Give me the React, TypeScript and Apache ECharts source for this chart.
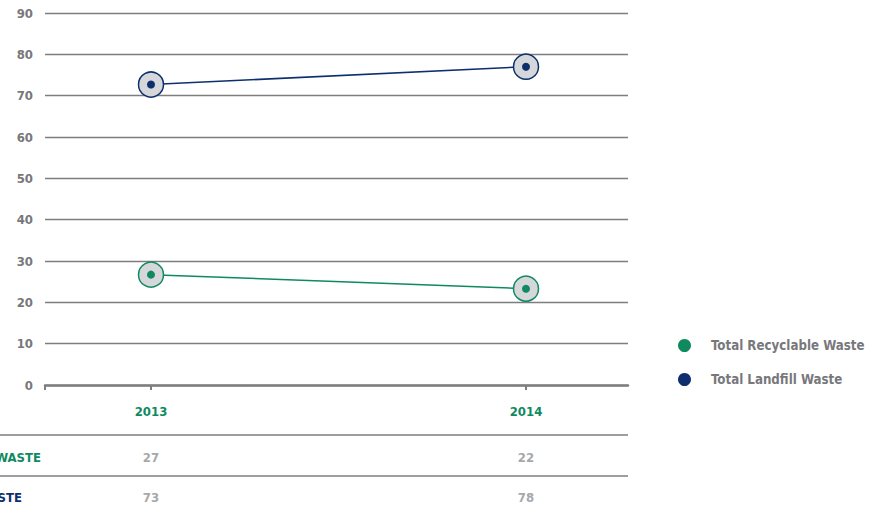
import React, { useEffect, useRef } from "react";
import * as echarts from "echarts";

const years = [2013, 2014];
const recyclable = [26.7, 23.3];
const landfill = [72.7, 77.0];
const tableRecyclable = ["27", "22"];
const tableLandfill = ["73", "78"];
const seriesNames = ["Total Recyclable Waste", "Total Landfill Waste"];
const rowLabels = ["TOTAL RECYCLABLE WASTE", "TOTAL LANDFILL WASTE"];

const GREEN = "#0f8a5f";
const NAVY = "#0d2f6e";
const GRAY_TEXT = "#77787b";
const LINE_GRAY = "#7d7e80";
const FILL = "#d5d7da";
const FONT = "'DejaVu Sans Condensed', 'Liberation Sans Narrow', sans-serif";

export default function App() {
  const ref = useRef<HTMLDivElement>(null);
  useEffect(() => {
    if (!ref.current) return;
    const chart = echarts.init(ref.current, null, { renderer: "svg" });
    const xMin = 2013 - 106 / 375;
    const xMax = 2014 + 102 / 375;
    const mk = (name: string, vals: number[], color: string) => [
      {
        name,
        type: "line",
        data: years.map((y, i) => [y, vals[i]]),
        symbol: "circle",
        symbolSize: 25,
        lineStyle: { color, width: 1.5 },
        itemStyle: { color: FILL, borderColor: color, borderWidth: 1.5 },
        emphasis: { disabled: true },
        z: 3,
      },
      {
        name: name + " dot",
        type: "scatter",
        data: years.map((y, i) => [y, vals[i]]),
        symbol: "circle",
        symbolSize: 8,
        itemStyle: { color, opacity: 1 },
        emphasis: { disabled: true },
        z: 4,
      },
    ];
    const option: any = {
      animation: false,
      grid: { left: 45, right: 260, top: 13, bottom: 130 },
      xAxis: {
        type: "value",
        min: xMin,
        max: xMax,
        splitLine: { show: false },
        axisLine: { show: true, lineStyle: { color: LINE_GRAY, width: 2.5 } },
        axisTick: {
          show: true,
          customValues: [xMin, ...years],
          length: 5,
          lineStyle: { color: LINE_GRAY, width: 2 },
        },
        axisLabel: {
          customValues: years,
          color: GREEN,
          fontFamily: FONT,
          fontWeight: "bold",
          fontSize: 13,
          margin: 20,
          formatter: (v: number) => String(Math.round(v)),
        },
      },
      yAxis: {
        type: "value",
        min: 0,
        max: 90,
        interval: 10,
        axisLine: { show: false },
        axisTick: { show: false },
        splitLine: { lineStyle: { color: LINE_GRAY, width: 1.3 } },
        axisLabel: {
          color: GRAY_TEXT,
          fontFamily: FONT,
          fontWeight: "bold",
          fontSize: 13,
          margin: 12,
        },
      },
      legend: {
        orient: "vertical",
        left: 673,
        top: 334,
        itemWidth: 43,
        itemHeight: 13,
        itemGap: 21,
        textStyle: { color: GRAY_TEXT, fontFamily: FONT, fontWeight: "bold", fontSize: 13.2 },
        data: [
          { name: seriesNames[0], icon: "circle", itemStyle: { color: GREEN, borderWidth: 0 } },
          { name: seriesNames[1], icon: "circle", itemStyle: { color: NAVY, borderWidth: 0 } },
        ],
      },
      series: [...mk(seriesNames[0], recyclable, GREEN), ...mk(seriesNames[1], landfill, NAVY)],
    };
    chart.setOption(option);

    const xs = years.map((y) => chart.convertToPixel({ xAxisIndex: 0 }, y) as number);
    const rightEdge = chart.convertToPixel({ xAxisIndex: 0 }, xMax) as number;
    const rowTextStyle = { fontFamily: FONT, fontWeight: "bold", fontSize: 13 };
    const graphic: any[] = [
      { type: "line", shape: { x1: 0, y1: 435, x2: rightEdge, y2: 435 }, style: { stroke: LINE_GRAY, lineWidth: 1.3 } },
      { type: "line", shape: { x1: 0, y1: 476, x2: rightEdge, y2: 476 }, style: { stroke: LINE_GRAY, lineWidth: 1.3 } },
      { type: "text", x: 41, y: 457, style: { text: rowLabels[0], fill: GREEN, align: "right", verticalAlign: "middle", ...rowTextStyle } },
      { type: "text", x: 22, y: 497, style: { text: rowLabels[1], fill: NAVY, align: "right", verticalAlign: "middle", ...rowTextStyle } },
    ];
    xs.forEach((x, i) => {
      graphic.push({ type: "text", x, y: 457, style: { text: tableRecyclable[i], fill: "#a7a8aa", align: "center", verticalAlign: "middle", ...rowTextStyle } });
      graphic.push({ type: "text", x, y: 497, style: { text: tableLandfill[i], fill: "#a7a8aa", align: "center", verticalAlign: "middle", ...rowTextStyle } });
    });
    chart.setOption({ graphic });
    return () => chart.dispose();
  }, []);
  return <div ref={ref} style={{ width: 888, height: 515, position: "absolute", left: 0, top: 0 }} />;
}
